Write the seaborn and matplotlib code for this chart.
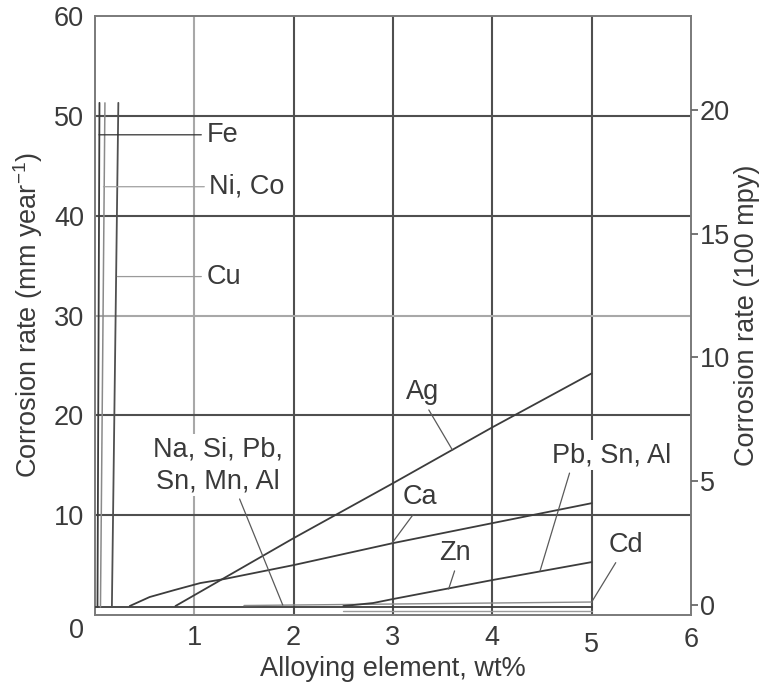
import matplotlib
matplotlib.use("Agg")
import matplotlib.pyplot as plt
import matplotlib.transforms as mtransforms
import seaborn as sns

# ---------------- data ----------------
fe_x = [0.045, 0.025]
fe_y = [51.3, 0.8]
nico_x = [0.10, 0.055]
nico_y = [51.3, 0.8]
cu_x = [0.235, 0.17]
cu_y = [51.3, 0.8]
base_x = [0.0, 5.0]          # Na, Si, Pb, Sn, Mn, Al
base_y = [0.8, 0.8]
low_x = [2.5, 5.0]
low_y = [0.45, 0.45]
cd_x = [1.5, 3.0, 5.0]
cd_y = [0.95, 1.1, 1.3]
ag_x = [0.81, 2.0, 3.0, 4.0, 5.0]
ag_y = [0.9, 7.7, 13.2, 18.8, 24.2]
ca_x = [0.35, 0.55, 0.8, 1.06, 1.3, 2.0, 3.0, 4.0, 5.0]
ca_y = [0.9, 1.8, 2.5, 3.2, 3.6, 5.0, 7.2, 9.2, 11.2]
zn_x = [2.5, 2.8, 3.0, 4.0, 5.0]
zn_y = [0.9, 1.2, 1.6, 3.5, 5.3]

x_ticks = [1, 2, 3, 4, 5, 6]
y_ticks = [0, 10, 20, 30, 40, 50, 60]
right_ticks = [0, 5, 10, 15, 20]
# right axis (100 mpy) vs left (mm/year): left = offset + scale * right
mpy_offset = 1.0
mpy_scale = 2.48

# ---------------- style ----------------
sns.set_style("white")
plt.rcParams["font.family"] = ["Liberation Sans", "DejaVu Sans"]
TXT = "#3a3a3a"
FS = 19.5
plt.rcParams["text.color"] = TXT
plt.rcParams["axes.labelcolor"] = TXT
plt.rcParams["xtick.color"] = TXT
plt.rcParams["ytick.color"] = TXT
plt.rcParams["mathtext.fontset"] = "custom"
plt.rcParams["mathtext.rm"] = "Liberation Sans"
plt.rcParams["mathtext.it"] = "Liberation Sans"

fig = plt.figure(figsize=(7.63, 6.88), dpi=100)
ax = fig.add_axes([95 / 763, 1 - 615 / 688, (691 - 95) / 763, (615 - 16) / 688])

DARK = "#3c3c3c"
LIGHT = "#9a9a9a"
LW = 1.3

def line(x, y, color=DARK, lw=LW):
    sns.lineplot(x=x, y=y, ax=ax, sort=False, estimator=None, color=color,
                 linewidth=lw, zorder=3)

line(base_x, base_y)
line(low_x, low_y, color=LIGHT, lw=1.0)
line(cd_x, cd_y, color="#8a8a8a", lw=1.0)
line(fe_x, fe_y)
line(nico_x, nico_y, color="#8a8a8a", lw=1.1)
line(cu_x, cu_y, color="#505050")
line(ag_x, ag_y)
line(ca_x, ca_y)
line(zn_x, zn_y)

ax.set_xlim(0, 6)
ax.set_ylim(0, 60)
ax.set_xticks(x_ticks)
ax.set_yticks(y_ticks)
ax.set_xticklabels([str(v) for v in x_ticks])
ax.set_yticklabels([str(v) for v in y_ticks])
ax.tick_params(axis="both", length=0, labelsize=FS)
ax.tick_params(axis="x", pad=7)
ax.tick_params(axis="y", pad=8)

# grid
ax.set_axisbelow(True)
ax.grid(True, color="#4f4f4f", linewidth=1.5)
for t, gl in zip(ax.get_xticks(), ax.get_xgridlines()):
    if t == 1:
        gl.set_color("#a8a8a8")
    if t == 6:
        gl.set_visible(False)
for t, gl in zip(ax.get_yticks(), ax.get_ygridlines()):
    if t == 30:
        gl.set_color("#a8a8a8")
    if t in (0, 60):
        gl.set_visible(False)

for s in ax.spines.values():
    s.set_color("#7a7a7a")
    s.set_linewidth(1.4)
    s.set_visible(True)

ax.set_xlabel("Alloying element, wt%", fontsize=FS, labelpad=-2)
ax.set_ylabel("Corrosion rate (mm year$^{-1}$)", fontsize=FS, labelpad=6)

# individual tick label offsets seen in the reference
xt = ax.xaxis.get_major_ticks()
xt[4].set_pad(12.5)
xt[5].set_pad(8.5)
yt0 = ax.yaxis.get_major_ticks()[0]
yt0.label1.set_transform(yt0.label1.get_transform() +
                         mtransforms.ScaledTranslation(0, -0.13, fig.dpi_scale_trans))

# right axis
ax2 = ax.twinx()
ax2.set_ylim((0 - mpy_offset) / mpy_scale, (60 - mpy_offset) / mpy_scale)
ax2.set_yticks(right_ticks)
ax2.set_yticklabels([str(v) for v in right_ticks])
ax2.tick_params(axis="y", length=5, width=1.3, color="#6a6a6a", pad=1.5, labelsize=FS)
for s in ax2.spines.values():
    s.set_visible(False)
ax2.set_ylabel("Corrosion rate (100 mpy)", fontsize=FS, labelpad=3)

# ---------------- labels with leader lines ----------------
LEAD = dict(arrowstyle="-", color="#5a5a5a", lw=0.9, shrinkA=2, shrinkB=0)
BOX = dict(boxstyle="square,pad=0.08", fc="white", ec="none")

def lab(text, xy, xytext, relpos, ha="center", va="center", color="#5a5a5a", box=True, **kw):
    props = dict(LEAD)
    props["relpos"] = relpos
    props["color"] = color
    ax.annotate(text, xy=xy, xytext=xytext, fontsize=FS, ha=ha, va=va,
                arrowprops=props, bbox=BOX if box else None, zorder=5, **kw)

lab("Fe", (0.04, 48.1), (1.12, 48.1), (0, 0.5), ha="left", color="#333333")
lab("Ni, Co", (0.085, 42.9), (1.15, 42.9), (0, 0.5), ha="left", color="#a0a0a0")
lab("Cu", (0.225, 33.9), (1.12, 33.9), (0, 0.5), ha="left", color="#9a9a9a")
lab("Ag", (3.60, 16.5), (3.30, 22.3), (0.6, 0.0))
lab("Ca", (2.99, 7.2), (3.27, 11.8), (0.4, 0.0))
lab("Zn", (3.56, 2.6), (3.62, 6.2), (0.55, 0.0))
lab("Pb, Sn, Al", (4.48, 4.4), (5.2, 16.0), (0.16, 0.0))
lab("Cd", (5.0, 1.3), (5.34, 7.0), (0.3, 0.0))
lab("Na, Si, Pb,\nSn, Mn, Al", (1.89, 1.0), (1.24, 15.0), (0.65, 0.0), linespacing=1.3)

fig.savefig("out.png", dpi=100)
